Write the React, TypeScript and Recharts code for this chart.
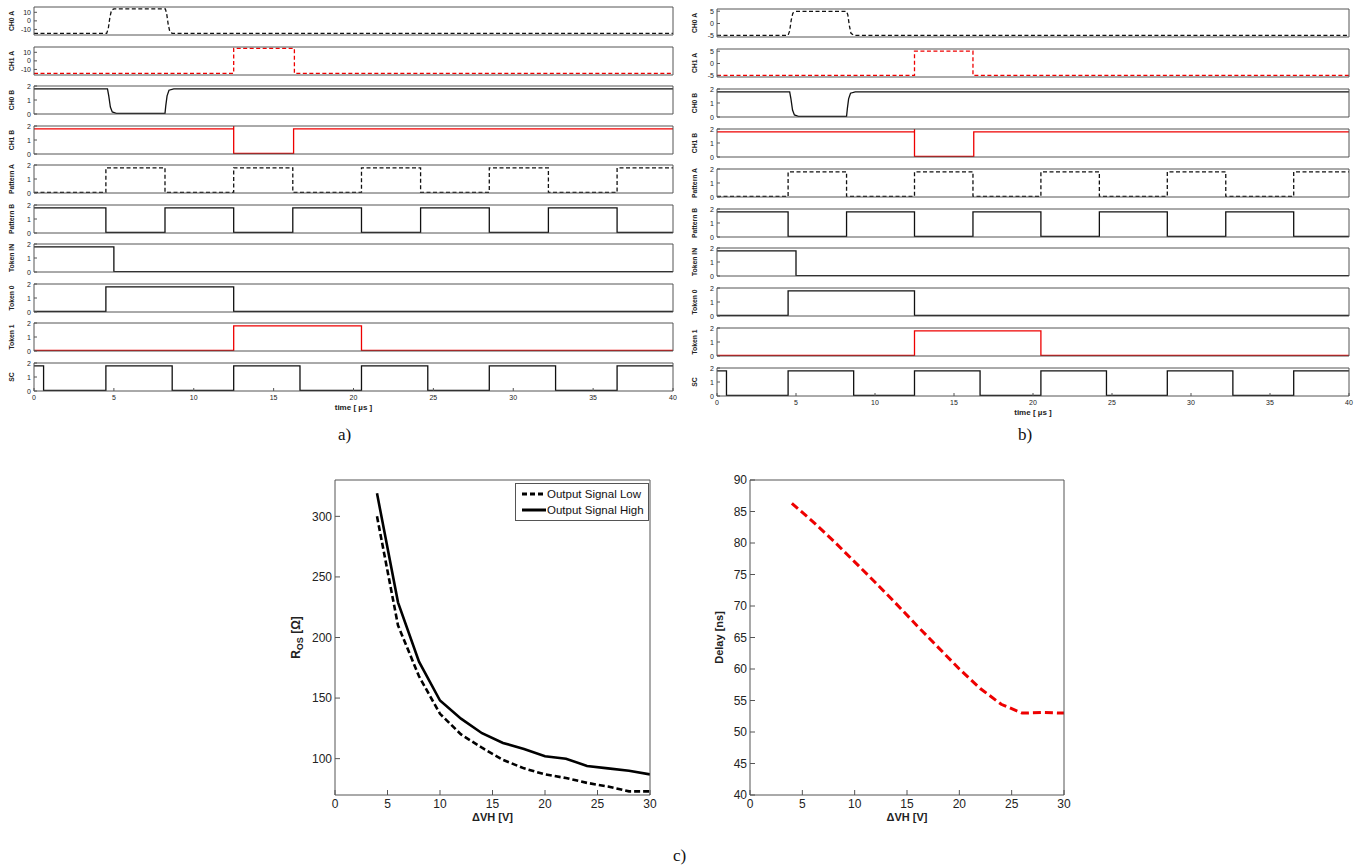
import { Legend, Line, LineChart, XAxis, YAxis } from "recharts";

const FONT = "'Liberation Sans', Arial, sans-serif";
const AXIS = "#555";
const INK = "#222";
const RED = "#ee0000";

// ---- time traces (panels a and b), points are [t (µs), value] ----
const timeTicks = [0, 5, 10, 15, 20, 25, 30, 35, 40];
const wideTicks = [-10, 0, 10];
const narrowTicks = [-5, 0, 5];
const logicTicks = [0, 1, 2];

const aCh0A = [[0, -14.5], [4.55, -14.5], [4.65, -9], [4.75, 4], [4.85, 12.5], [5.0, 14], [8.22, 14], [8.3, 9], [8.4, -4], [8.5, -12.5], [8.65, -14.5], [40, -14.5]];
const aCh1A = [[0, -14.5], [12.5, -14.5], [12.5, 14.5], [16.3, 14.5], [16.3, -14.5], [40, -14.5]];
const bCh0A = [[0, -4.8], [4.5, -4.8], [4.6, -3], [4.7, 1.5], [4.8, 4.2], [4.95, 4.9], [8.2, 4.9], [8.28, 3.5], [8.38, -1], [8.48, -4], [8.65, -4.8], [40, -4.8]];
const bCh1A = [[0, -4.8], [12.5, -4.8], [12.5, 5], [16.2, 5], [16.2, -4.8], [40, -4.8]];
const ch0B = [[0, 1.8], [4.6, 1.8], [4.68, 1.3], [4.78, 0.5], [4.9, 0.15], [5.15, 0.05], [8.2, 0.05], [8.25, 0.6], [8.33, 1.3], [8.45, 1.7], [8.75, 1.8], [40, 1.8]];
const ch1B = [[0, 1.8], [12.5, 1.8], [12.5, 2], [12.5, 0.05], [16.25, 0.05], [16.25, 1.8], [40, 1.8]];
const patternA = [[0, 0.05], [4.5, 1.8], [8.2, 0.05], [12.5, 1.8], [16.2, 0.05], [20.5, 1.8], [24.2, 0.05], [28.5, 1.8], [32.2, 0.05], [36.5, 1.8], [40, 1.8]];
const patternB = [[0, 1.8], [4.5, 0.05], [8.2, 1.8], [12.5, 0.05], [16.2, 1.8], [20.5, 0.05], [24.2, 1.8], [28.5, 0.05], [32.2, 1.8], [36.5, 0.05], [40, 0.05]];
const tokenIn = [[0, 1.8], [5.0, 0.02], [40, 0.02]];
const token0 = [[0, 0.05], [4.5, 1.8], [12.5, 0.05], [40, 0.05]];
const token1 = [[0, 0.05], [12.5, 1.8], [20.5, 0.05], [40, 0.05]];
const sc = [[0, 1.8], [0.6, 0.05], [4.5, 1.8], [8.65, 0.05], [12.5, 1.8], [16.65, 0.05], [20.5, 1.8], [24.65, 0.05], [28.5, 1.8], [32.65, 0.05], [36.5, 1.8], [40, 1.8]];

// ---- panel c ----
const dvh = [4, 6, 8, 10, 12, 14, 16, 18, 20, 22, 24, 26, 28, 30];
const rosLow = [300, 210, 168, 137, 120, 109, 99, 92, 87, 84, 80, 77, 73, 73];
const rosHigh = [319, 229, 180, 148, 133, 121, 113, 108, 102, 100, 94, 92, 90, 87];
const delayNs = [86.3, 83.4, 80.3, 77.0, 73.7, 70.3, 66.8, 63.4, 60.0, 56.9, 54.4, 53.0, 53.1, 53.0];
const dvhTicks = [0, 5, 10, 15, 20, 25, 30];
const rosTicks = [100, 150, 200, 250, 300];
const delayTicks = [40, 45, 50, 55, 60, 65, 70, 75, 80, 85, 90];

type Row = {
  label: string;
  data: number[][];
  color: string;
  dashed?: boolean;
  smooth?: boolean;
  domain: [number, number];
  ticks: number[];
};

const rowsA: Row[] = [
  { label: "CH0 A", data: aCh0A, color: "#111", dashed: true, smooth: true, domain: [-16.5, 16.2], ticks: wideTicks },
  { label: "CH1 A", data: aCh1A, color: RED, dashed: true, smooth: true, domain: [-16.5, 16.2], ticks: wideTicks },
  { label: "CH0 B", data: ch0B, color: "#111", smooth: true, domain: [0, 2], ticks: logicTicks },
  { label: "CH1 B", data: ch1B, color: RED, smooth: true, domain: [0, 2], ticks: logicTicks },
  { label: "Pattern A", data: patternA, color: "#111", dashed: true, domain: [0, 2], ticks: logicTicks },
  { label: "Pattern B", data: patternB, color: "#111", domain: [0, 2], ticks: logicTicks },
  { label: "Token IN", data: tokenIn, color: "#111", domain: [0, 2], ticks: logicTicks },
  { label: "Token 0", data: token0, color: "#111", domain: [0, 2], ticks: logicTicks },
  { label: "Token 1", data: token1, color: RED, domain: [0, 2], ticks: logicTicks },
  { label: "SC", data: sc, color: "#111", domain: [0, 2], ticks: logicTicks },
];

const rowsB: Row[] = rowsA.map((r, i) =>
  i === 0
    ? { ...r, data: bCh0A, domain: [-5.5, 5.9], ticks: narrowTicks }
    : i === 1
    ? { ...r, data: bCh1A, domain: [-5.5, 5.9], ticks: narrowTicks }
    : r
);

const PLOT_H = 28;

function ValueTick(props: any) {
  const { x, y, payload, size = 7, len = 3 } = props;
  const axisX = x + 3;
  return (
    <g>
      <line x1={axisX} x2={axisX + len} y1={y} y2={y} stroke={AXIS} />
      <text x={x} y={y} dy={size * 0.36} textAnchor="end" fontSize={size} fill={INK} fontFamily={FONT}>
        {payload.value}
      </text>
    </g>
  );
}

function BottomTick(props: any) {
  const { x, y, payload, size = 7, len = 3 } = props;
  const axisY = y - 3;
  return (
    <g>
      <line x1={x} x2={x} y1={axisY} y2={axisY - len} stroke={AXIS} />
      <text x={x} y={y} dy={size * 0.85} textAnchor="middle" fontSize={size} fill={INK} fontFamily={FONT}>
        {payload.value}
      </text>
    </g>
  );
}

function Trace({ row, left, plotLeft, plotRight, top, last }: any) {
  const mTop = 5;
  const mRight = 10;
  const mBottom = 5;
  const xH = last ? 26 : 1;
  const width = plotRight - left + mRight;
  const height = mTop + PLOT_H + xH + mBottom;
  const points = row.data.map(([t, v]: number[]) => ({ t, v }));
  return (
    <div style={{ position: "absolute", left, top: top - mTop }}>
      <LineChart width={width} height={height} data={points} margin={{ top: mTop, right: mRight, bottom: mBottom, left: 0 }}>
        <XAxis
          dataKey="t"
          type="number"
          domain={[0, 40]}
          allowDataOverflow
          ticks={timeTicks}
          interval={0}
          height={xH}
          stroke={AXIS}
          tickLine={false}
          tickSize={0}
          tickMargin={3}
          tick={last ? <BottomTick /> : false}
          label={
            last
              ? {
                  value: "time [ µs ]",
                  content: (p: any) => (
                    <text
                      x={p.viewBox.x + p.viewBox.width / 2}
                      y={p.viewBox.y + 19}
                      textAnchor="middle"
                      fontSize={8}
                      fontWeight="bold"
                      fill={INK}
                      fontFamily={FONT}
                    >
                      time [ µs ]
                    </text>
                  ),
                }
              : undefined
          }
        />
        <XAxis
          xAxisId="top"
          orientation="top"
          type="number"
          domain={[0, 40]}
          allowDataOverflow
          ticks={timeTicks}
          interval={0}
          height={1}
          mirror
          tick={false}
          tickLine={!!last}
          tickSize={3}
          stroke={AXIS}
        />
        <YAxis
          dataKey="v"
          type="number"
          domain={row.domain}
          allowDataOverflow
          ticks={row.ticks}
          interval={0}
          width={plotLeft - left}
          stroke={AXIS}
          tickLine={false}
          tickSize={0}
          tickMargin={3}
          tick={<ValueTick />}
          label={{
            value: row.label,
            content: (p: any) => {
              const cx = p.viewBox.x + p.viewBox.width - 20;
              const cy = p.viewBox.y + p.viewBox.height / 2;
              return (
                <text
                  x={cx}
                  y={cy}
                  transform={`rotate(-90 ${cx} ${cy})`}
                  textAnchor="middle"
                  fontSize={6.8}
                  fontWeight="bold"
                  fill={INK}
                  fontFamily={FONT}
                >
                  {row.label}
                </text>
              );
            },
          }}
        />
        <YAxis
          yAxisId="right"
          orientation="right"
          type="number"
          domain={row.domain}
          allowDataOverflow
          ticks={row.ticks}
          interval={0}
          width={1}
          mirror
          tick={false}
          tickSize={3}
          stroke={AXIS}
        />
        <Line
          type={row.smooth ? "linear" : "stepAfter"}
          dataKey="v"
          stroke={row.color}
          strokeWidth={1.3}
          strokeDasharray={row.dashed ? "4 2.5" : undefined}
          dot={false}
          isAnimationActive={false}
        />
      </LineChart>
    </div>
  );
}

function Panel({ rows, left, plotLeft, plotRight, firstTop, pitch }: any) {
  return (
    <>
      {rows.map((row: Row, i: number) => (
        <Trace
          key={row.label}
          row={row}
          left={left}
          plotLeft={plotLeft}
          plotRight={plotRight}
          top={Math.round(firstTop + i * pitch)}
          last={i === rows.length - 1}
        />
      ))}
    </>
  );
}

function BoxAxes({ xTicks, yTicks, yDomain, yWidth, yTitle, titleX }: any) {
  return [
    <XAxis
      key="xb"
      dataKey="x"
      type="number"
      domain={[0, 30]}
      allowDataOverflow
      ticks={xTicks}
      interval={0}
      height={30}
      stroke={AXIS}
      tickLine={false}
      tickSize={0}
      tickMargin={3}
      tick={<BottomTick size={12} len={5} />}
      label={{
        value: "ΔVH [V]",
        content: (p: any) => (
          <text
            x={p.viewBox.x + p.viewBox.width / 2}
            y={p.viewBox.y + 26}
            textAnchor="middle"
            fontSize={11}
            fontWeight="bold"
            fill={INK}
            fontFamily={FONT}
          >
            ΔVH [V]
          </text>
        ),
      }}
    />,
    <XAxis
      key="xt"
      xAxisId="top"
      orientation="top"
      type="number"
      domain={[0, 30]}
      allowDataOverflow
      ticks={xTicks}
      interval={0}
      height={1}
      mirror
      tick={false}
      tickSize={5}
      stroke={AXIS}
    />,
    <YAxis
      key="yl"
      type="number"
      domain={yDomain}
      allowDataOverflow
      ticks={yTicks}
      interval={0}
      width={yWidth}
      stroke={AXIS}
      tickLine={false}
      tickSize={0}
      tickMargin={3}
      tick={<ValueTick size={12} len={5} />}
      label={{ value: "y", content: (p: any) => yTitle(p.viewBox.x + titleX, p.viewBox.y + p.viewBox.height / 2) }}
    />,
    <YAxis
      key="yr"
      yAxisId="right"
      orientation="right"
      type="number"
      domain={yDomain}
      allowDataOverflow
      ticks={yTicks}
      interval={0}
      width={1}
      mirror
      tick={false}
      tickSize={5}
      stroke={AXIS}
    />,
  ];
}

function RosTitle(cx: number, cy: number) {
  return (
    <text
      x={cx}
      y={cy}
      transform={`rotate(-90 ${cx} ${cy})`}
      textAnchor="middle"
      fontSize={12}
      fontWeight="bold"
      fill={INK}
      fontFamily={FONT}
    >
      <tspan>R</tspan>
      <tspan dy={3} fontSize={9}>OS</tspan>
      <tspan dy={-3}> [Ω]</tspan>
    </text>
  );
}

function DelayTitle(cx: number, cy: number) {
  return (
    <text
      x={cx}
      y={cy}
      transform={`rotate(-90 ${cx} ${cy})`}
      textAnchor="middle"
      fontSize={11}
      fontWeight="bold"
      fill={INK}
      fontFamily={FONT}
    >
      Delay [ns]
    </text>
  );
}

const rosSeries = [
  { key: "low", name: "Output Signal Low", dash: "6 3" },
  { key: "high", name: "Output Signal High", dash: undefined },
];

function RosLegend() {
  return (
    <div
      style={{
        border: `1px solid ${AXIS}`,
        background: "#fff",
        padding: "2px 4px 2px 6px",
        fontFamily: FONT,
        fontSize: 11.5,
        color: "#111",
        lineHeight: "16px",
        whiteSpace: "nowrap",
      }}
    >
      {rosSeries.map((s) => (
        <div key={s.key} style={{ display: "flex", alignItems: "center" }}>
          <svg width={24} height={6} style={{ marginRight: 1 }}>
            <line x1={0} x2={24} y1={3} y2={3} stroke="#000" strokeWidth={3} strokeDasharray={s.dash ? "5 3" : undefined} />
          </svg>
          {s.name}
        </div>
      ))}
    </div>
  );
}

function RosChart() {
  const data = dvh.map((x, i) => ({ x, low: rosLow[i], high: rosHigh[i] }));
  return (
    <div style={{ position: "absolute", left: 280, top: 450 }}>
      <LineChart width={380} height={385} data={data} margin={{ top: 30, right: 10, bottom: 10, left: 0 }}>
        {BoxAxes({ xTicks: dvhTicks, yTicks: rosTicks, yDomain: [70, 330], yWidth: 55, yTitle: RosTitle, titleX: 20 })}
        <Legend
          layout="horizontal"
          align="center"
          verticalAlign="middle"
          wrapperStyle={{ top: 33, left: 235, width: "auto", height: "auto" }}
          content={() => <RosLegend />}
        />
        {rosSeries.map((s) => (
          <Line
            key={s.key}
            type="linear"
            dataKey={s.key}
            name={s.name}
            stroke="#000"
            strokeWidth={2.6}
            strokeDasharray={s.dash}
            dot={false}
            isAnimationActive={false}
          />
        ))}
      </LineChart>
    </div>
  );
}

function DelayChart() {
  const data = dvh.map((x, i) => ({ x, delay: delayNs[i] }));
  return (
    <div style={{ position: "absolute", left: 700, top: 450 }}>
      <LineChart width={380} height={385} data={data} margin={{ top: 30, right: 16, bottom: 10, left: 0 }}>
        {BoxAxes({ xTicks: dvhTicks, yTicks: delayTicks, yDomain: [40, 90], yWidth: 50, yTitle: DelayTitle, titleX: 23 })}
        <Line
          type="linear"
          dataKey="delay"
          name="Delay"
          stroke={RED}
          strokeWidth={3}
          strokeDasharray="8 4"
          dot={false}
          isAnimationActive={false}
        />
      </LineChart>
    </div>
  );
}

const captionStyle: any = {
  position: "absolute",
  fontFamily: "'Liberation Serif', 'Times New Roman', serif",
  fontSize: 17,
  color: "#111",
};

export default function App() {
  return (
    <div style={{ position: "absolute", left: 0, top: 0, width: 1363, height: 867, background: "#fff", overflow: "hidden" }}>
      <Panel rows={rowsA} left={0} plotLeft={34} plotRight={673} firstTop={7} pitch={39.55} />
      <Panel rows={rowsB} left={680} plotLeft={717} plotRight={1349} firstTop={9} pitch={39.9} />
      <div style={{ ...captionStyle, left: 338, top: 425 }}>a)</div>
      <div style={{ ...captionStyle, left: 1018, top: 425 }}>b)</div>
      <RosChart />
      <DelayChart />
      <div style={{ ...captionStyle, left: 673, top: 846 }}>c)</div>
    </div>
  );
}
